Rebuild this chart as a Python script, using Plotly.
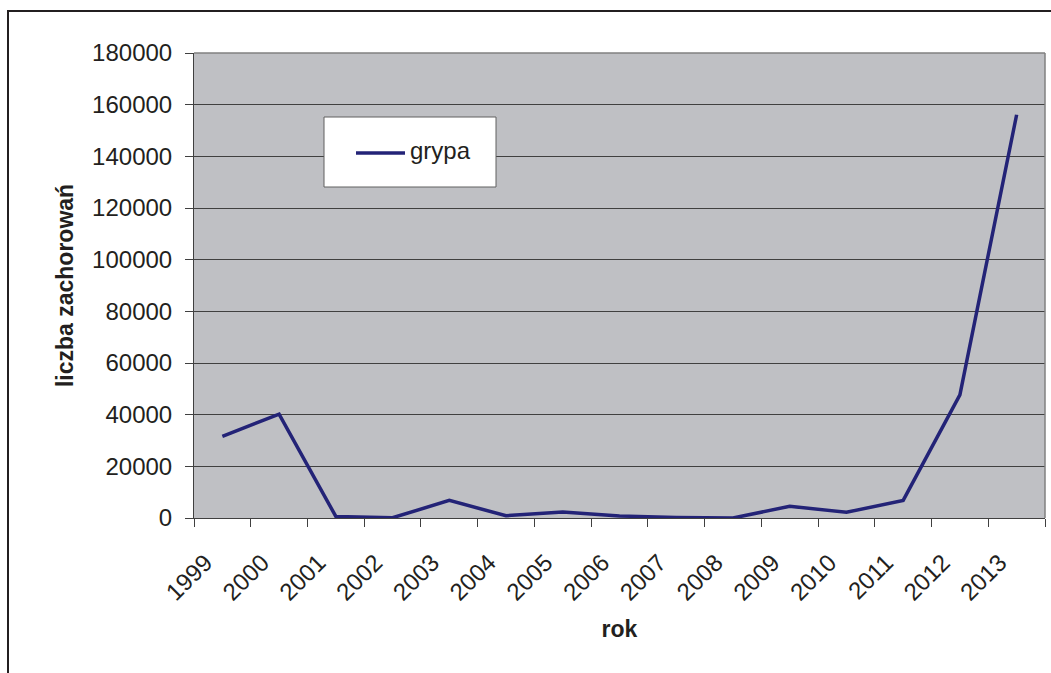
import plotly.graph_objects as go

# Roczna liczba zachorowań na grypę
years = [str(y) for y in range(1999, 2014)]
cases = [31600, 40200, 600, 100, 6800, 900, 2300, 800, 200, 0, 4500, 2200, 6800, 47700, 156100]
y_ticks = list(range(0, 180001, 20000))
series_name = "grypa"

FONT = "Liberation Sans, Arial, sans-serif"
TEXT = "#231f20"
AXIS = "#404040"
LINE = "#232377"

fig = go.Figure()
fig.add_trace(go.Scatter(
    x=years, y=cases, mode="lines", name=series_name,
    line=dict(color=LINE, width=3.5),
))

L, R, T, B = 194, 6, 53, 155
W, H = 1051, 673
pw, ph = W - L - R, H - T - B


def px(x):
    return (x - L) / pw


def py(y):
    return (H - B - y) / ph


fig.update_layout(
    width=W, height=H,
    margin=dict(l=L, r=R, t=T, b=B, pad=0),
    paper_bgcolor="white",
    plot_bgcolor="#bfc0c4",
    font=dict(family=FONT, size=24, color=TEXT),
    showlegend=False,
    xaxis=dict(
        type="category",
        tickmode="array", tickvals=years, ticktext=years,
        tickangle=-45,
        ticks="outside", ticklen=8, tickcolor=AXIS, tickwidth=1,
        tickson="boundaries",
        ticklabelstandoff=20,
        ticklabelshift=-17,
        showline=True, linecolor=AXIS, linewidth=1,
        showgrid=False, zeroline=False,
        range=[-0.5, len(years) - 0.5],
        title=dict(text="<b>rok</b>", font=dict(size=23), standoff=16),
    ),
    yaxis=dict(
        range=[0, 180000],
        tickmode="array", tickvals=y_ticks, ticktext=[str(v) for v in y_ticks],
        ticks="outside", ticklen=8, tickcolor=AXIS, tickwidth=1,
        ticklabelstandoff=8,
        showline=True, linecolor=AXIS, linewidth=1,
        showgrid=True, gridcolor=AXIS, gridwidth=1,
        zeroline=False,
        title=dict(text="<b>liczba zachorowań</b>", font=dict(size=23), standoff=12),
    ),
    shapes=[
        # top and right edges of the plot area
        dict(type="line", xref="paper", yref="paper", x0=0, x1=1, y0=1, y1=1,
             line=dict(color="#808080", width=1.5)),
        dict(type="line", xref="paper", yref="paper", x0=1, x1=1, y0=0, y1=1,
             line=dict(color="#808080", width=1.5)),
        # chart frame
        dict(type="rect", xref="paper", yref="paper",
             x0=px(8), x1=px(W + 20), y0=py(H + 20), y1=py(11),
             line=dict(color="#231f20", width=2), fillcolor="rgba(0,0,0,0)"),
        # legend box and its line sample
        dict(type="rect", xref="paper", yref="paper",
             x0=px(324), x1=px(496), y0=py(187), y1=py(117),
             line=dict(color="#606060", width=1), fillcolor="white"),
        dict(type="line", xref="paper", yref="paper",
             x0=px(356), x1=px(405), y0=py(153), y1=py(153),
             line=dict(color=LINE, width=3.5)),
    ],
    annotations=[
        dict(text=series_name, xref="paper", yref="paper",
             x=px(408), y=py(151), xanchor="left", yanchor="middle",
             showarrow=False, font=dict(size=24, color=TEXT)),
    ],
)

fig.write_html("out.html")
